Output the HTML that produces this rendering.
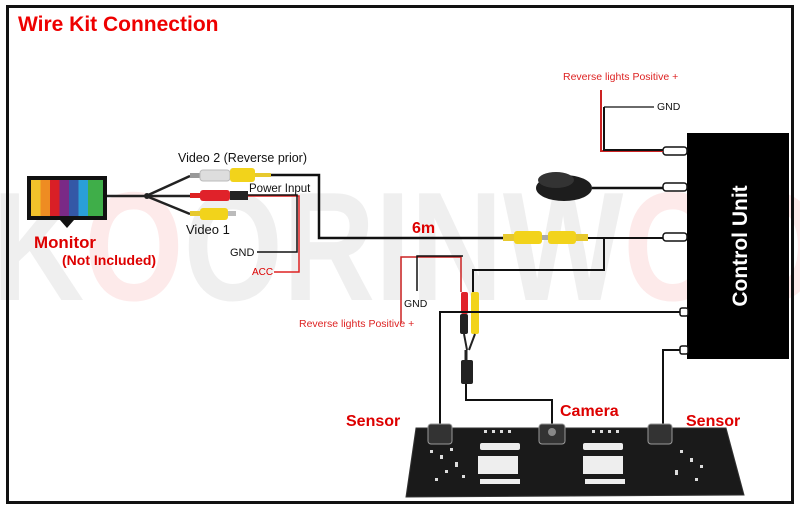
<!DOCTYPE html>
<html><head><meta charset="utf-8"><style>
html,body{margin:0;padding:0;background:#fff;}
svg{display:block;}
text{font-family:"Liberation Sans",sans-serif;}
</style></head><body>
<svg width="800" height="516" viewBox="0 0 800 516" xmlns="http://www.w3.org/2000/svg">
<rect x="0" y="0" width="800" height="516" fill="#fff"/>
<!-- watermark -->
<text x="-8" y="300" font-weight="bold" font-size="155" opacity="0.09" textLength="830" lengthAdjust="spacingAndGlyphs"><tspan fill="#555">K</tspan><tspan fill="#e22">O</tspan><tspan fill="#555">ORINW</tspan><tspan fill="#e22">OO</tspan></text>
<rect x="7.5" y="6.5" width="785" height="496" fill="none" stroke="#111" stroke-width="3"/>
<text x="18" y="31" font-size="21" font-weight="bold" fill="#e00">Wire Kit Connection</text>

<!-- Monitor -->
<rect x="27" y="176" width="80" height="44" fill="#111"/>
<rect x="31" y="180" width="9.5" height="36" fill="#f2c22b"/>
<rect x="40.5" y="180" width="9.5" height="36" fill="#ee8c22"/>
<rect x="50" y="180" width="9.5" height="36" fill="#d91f26"/>
<rect x="59.5" y="180" width="9.5" height="36" fill="#7a2a86"/>
<rect x="69" y="180" width="9.5" height="36" fill="#3458a6"/>
<rect x="78.5" y="180" width="9.5" height="36" fill="#2a9fd8"/>
<rect x="88" y="180" width="15" height="36" fill="#3fae49"/>
<polygon points="60,220 74,220 67,228" fill="#111"/>
<text x="34" y="248" font-size="17" font-weight="bold" fill="#d00" textLength="62" lengthAdjust="spacingAndGlyphs">Monitor</text>
<text x="62" y="265" font-size="14" font-weight="bold" fill="#d00">(Not Included)</text>

<g stroke="#222" stroke-width="2.5" fill="none">
<path d="M107 196 H146"/>
<path d="M146 196 L190 176"/>
<path d="M146 196 H190"/>
<path d="M146 196 L190 214"/>
</g>
<circle cx="147" cy="196" r="3" fill="#222"/>
<rect x="190" y="173" width="10" height="5" fill="#999"/>
<rect x="200" y="170" width="30" height="11" rx="3" fill="#ddd" stroke="#bbb"/>
<rect x="230" y="168" width="25" height="14" rx="3" fill="#f2d31b"/>
<rect x="255" y="173" width="16" height="4" fill="#e7c92e"/>
<rect x="190" y="193" width="10" height="5" fill="#d22"/>
<rect x="200" y="190" width="30" height="11" rx="3" fill="#e0222a"/>
<rect x="230" y="191" width="18" height="9" fill="#222"/>
<rect x="190" y="211" width="10" height="5" fill="#e7c92e"/>
<rect x="200" y="208" width="28" height="12" rx="3" fill="#f2d31b"/>
<rect x="228" y="211" width="8" height="5" fill="#bbb"/>
<text x="178" y="162" font-size="12.5" fill="#111">Video 2 (Reverse prior)</text>
<text x="249" y="192" font-size="11.5" fill="#111">Power Input</text>
<text x="186" y="234" font-size="13" fill="#111">Video 1</text>
<text x="230" y="256" font-size="11" fill="#111">GND</text>
<text x="252" y="275" font-size="10" fill="#d00">ACC</text>
<path d="M248 196 H299 V272 H274" stroke="#d22" stroke-width="1.5" fill="none"/>
<path d="M248 195 H297 V252 H257" stroke="#111" stroke-width="1.5" fill="none"/>
<path d="M271 175 H319 V238 H503" stroke="#111" stroke-width="2.5" fill="none"/>
<text x="412" y="233" font-size="16" font-weight="bold" fill="#d00">6m</text>
<rect x="503" y="234" width="12" height="7" fill="#e7c92e"/>
<rect x="514" y="231" width="28" height="13" rx="3" fill="#f2d31b"/>
<rect x="542" y="235" width="6" height="5" fill="#aaa"/>
<rect x="548" y="231" width="28" height="13" rx="3" fill="#f2d31b"/>
<rect x="576" y="234" width="12" height="7" fill="#e7c92e"/>
<path d="M588 238 H668" stroke="#111" stroke-width="2" fill="none"/>
<path d="M604 238 V270 H473 V292" stroke="#111" stroke-width="2" fill="none"/>

<!-- Control Unit -->
<rect x="687" y="133" width="102" height="226" fill="#000"/>
<text transform="translate(747,246) rotate(-90)" text-anchor="middle" font-size="21" font-weight="bold" fill="#fff">Control Unit</text>
<g fill="#fff" stroke="#111" stroke-width="1.5">
<rect x="663" y="147" width="24" height="8" rx="3"/>
<rect x="663" y="183" width="24" height="8" rx="3"/>
<rect x="663" y="233" width="24" height="8" rx="3"/>
<rect x="680" y="308" width="8" height="8" rx="2"/>
<rect x="680" y="346" width="8" height="8" rx="2"/>
</g>
<path d="M601 90 V151 H663" stroke="#c22" stroke-width="2" fill="none"/>
<path d="M604 107 V150 H663" stroke="#111" stroke-width="2" fill="none"/>
<path d="M604 107 H654" stroke="#111" stroke-width="1.2"/>
<text x="563" y="80" font-size="10.5" fill="#d22">Reverse lights Positive +</text>
<text x="657" y="110" font-size="10.5" fill="#111">GND</text>
<ellipse cx="564" cy="188" rx="28" ry="13" fill="#1d1d1d"/>
<ellipse cx="556" cy="180" rx="18" ry="8" fill="#333"/>
<path d="M592 188 H663" stroke="#111" stroke-width="2.5"/>

<path d="M401 323 V257 H461 V292" stroke="#c22" stroke-width="1.5" fill="none"/>
<path d="M417 291 V256 H463" stroke="#111" stroke-width="1.5" fill="none"/>
<text x="404" y="307" font-size="10.5" fill="#111">GND</text>
<text x="299" y="327" font-size="10.5" fill="#d22">Reverse lights Positive +</text>
<rect x="461" y="292" width="7" height="22" rx="2" fill="#e0222a"/>
<rect x="471" y="292" width="8" height="42" rx="2" fill="#f2d31b"/>
<rect x="460" y="314" width="8" height="20" rx="2" fill="#222"/>
<path d="M464 334 L467 350 M475 334 L469 350" stroke="#222" stroke-width="2"/>
<rect x="461" y="360" width="12" height="24" rx="2" fill="#222"/>
<path d="M466 350 V360" stroke="#222" stroke-width="3"/>
<path d="M466 384 V400 H552 V425" stroke="#111" stroke-width="2" fill="none"/>
<path d="M680 312 H440 V428" stroke="#111" stroke-width="2" fill="none"/>
<path d="M680 350 H663 V428" stroke="#111" stroke-width="2" fill="none"/>

<text x="346" y="426" font-size="16" font-weight="bold" fill="#d00">Sensor</text>
<text x="560" y="416" font-size="16" font-weight="bold" fill="#d00">Camera</text>
<text x="686" y="426" font-size="16" font-weight="bold" fill="#d00">Sensor</text>

<polygon points="416,428 726,428 744,495 406,497" fill="#1a1a1a" stroke="#333"/>
<rect x="480" y="443" width="40" height="7" rx="2" fill="#eee"/>
<rect x="478" y="456" width="40" height="18" fill="#eee"/>
<rect x="480" y="479" width="40" height="5" fill="#eee"/>
<rect x="583" y="443" width="40" height="7" rx="2" fill="#eee"/>
<rect x="583" y="456" width="40" height="18" fill="#eee"/>
<rect x="585" y="479" width="40" height="5" fill="#eee"/>
<g fill="#ddd">
<rect x="430" y="450" width="3" height="3"/><rect x="440" y="455" width="3" height="4"/><rect x="450" y="448" width="3" height="3"/><rect x="455" y="462" width="3" height="5"/><rect x="445" y="470" width="3" height="3"/><rect x="462" y="475" width="3" height="3"/><rect x="435" y="478" width="3" height="3"/>
<rect x="680" y="450" width="3" height="3"/><rect x="690" y="458" width="3" height="4"/><rect x="700" y="465" width="3" height="3"/><rect x="675" y="470" width="3" height="5"/><rect x="695" y="478" width="3" height="3"/>
<rect x="484" y="430" width="3" height="3"/><rect x="492" y="430" width="3" height="3"/><rect x="500" y="430" width="3" height="3"/><rect x="508" y="430" width="3" height="3"/>
<rect x="592" y="430" width="3" height="3"/><rect x="600" y="430" width="3" height="3"/><rect x="608" y="430" width="3" height="3"/><rect x="616" y="430" width="3" height="3"/>
</g>
<g fill="#333" stroke="#999" stroke-width="1">
<rect x="428" y="424" width="24" height="20" rx="3"/>
<rect x="539" y="424" width="26" height="20" rx="3"/>
<rect x="648" y="424" width="24" height="20" rx="3"/>
</g>
<circle cx="552" cy="432" r="4" fill="#888"/>
</svg>
</body></html>
